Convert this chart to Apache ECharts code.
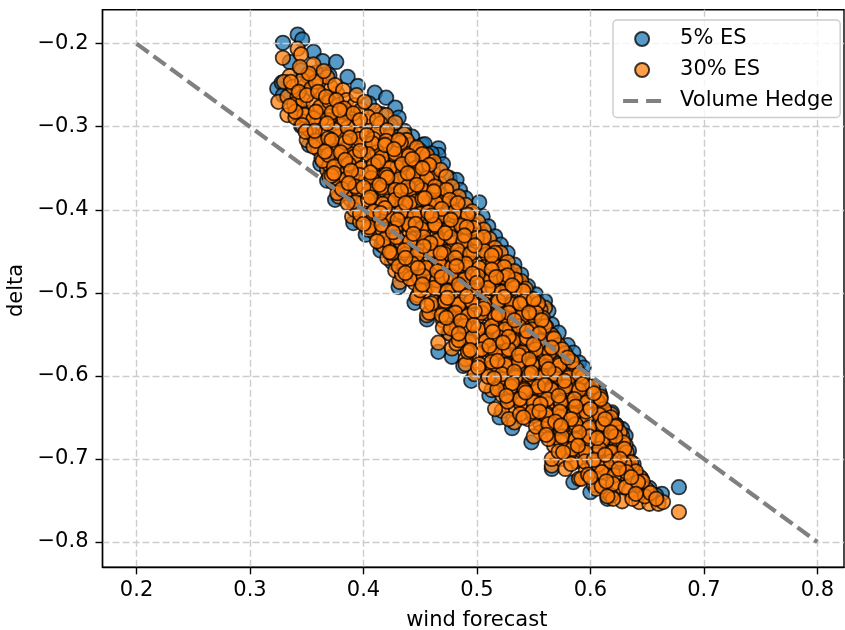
<!DOCTYPE html>
<html>
<head>
<meta charset="utf-8">
<script src="https://cdn.jsdelivr.net/npm/echarts@6/dist/echarts.min.js"></script>
<style>
html,body{margin:0;padding:0;background:#fff}
#main{width:845px;height:630px}
</style>
</head>
<body>
<div id="main"></div>
<script>
var xTicks = [0.2,0.3,0.4,0.5,0.6,0.7,0.8];
var yTicks = [-0.2,-0.3,-0.4,-0.5,-0.6,-0.7,-0.8];
var hedge = [[0.2,-0.2],[0.8,-0.8]];

// blue only shows along the edges of the band
var es5 = [
[.342,-.189],[.329,-.199],[.346,-.195],[.356,-.210],[.364,-.221],[.376,-.222],[.335,-.222],[.345,-.232],[.358,-.235],[.370,-.238],
[.386,-.240],[.395,-.251],[.410,-.259],[.420,-.265],[.428,-.277],[.431,-.289],[.324,-.254],[.328,-.247],[.335,-.260],[.329,-.262],
[.405,-.272],[.416,-.285],[.424,-.298],[.436,-.305],[.443,-.312],[.452,-.322],[.454,-.321],[.466,-.326],[.466,-.334],[.460,-.332],
[.470,-.345],[.476,-.362],[.482,-.364],[.485,-.376],[.490,-.386],[.502,-.391],[.505,-.408],[.510,-.420],[.516,-.432],[.521,-.442],
[.527,-.452],[.533,-.466],[.539,-.478],[.545,-.492],[.552,-.502],[.560,-.510],[.563,-.522],[.566,-.538],[.572,-.548],[.580,-.563],
[.585,-.572],[.590,-.584],[.594,-.590],[.599,-.614],[.608,-.620],[.619,-.644],[.628,-.664],[.631,-.672],[.634,-.690],[.638,-.706],
[.645,-.724],[.652,-.735],[.663,-.742],[.658,-.744],[.678,-.734],
[.345,-.299],[.352,-.322],[.362,-.345],[.368,-.365],[.375,-.388],[.391,-.416],[.402,-.430],[.415,-.449],[.425,-.463],[.431,-.493],
[.445,-.512],[.456,-.532],[.466,-.571],[.478,-.577],[.475,-.548],[.488,-.588],[.495,-.606],[.511,-.624],[.520,-.650],[.531,-.663],
[.548,-.680],[.566,-.712],[.585,-.728],[.600,-.740],[.615,-.748]
];
var es30 = [
[.329,-.217],[.342,-.206],[.345,-.213],[.356,-.225],[.335,-.239],[.325,-.270],[.333,-.286],[.350,-.316],[.353,-.304],
[.333,-.264],[.342,-.264],[.349,-.250],[.351,-.239],[.364,-.262],[.377,-.260],[.371,-.252],[.342,-.277],[.351,-.283],[.366,-.283],
[.377,-.288],[.387,-.283],[.410,-.281],[.420,-.286],[.428,-.295],
[.345,-.293],[.358,-.298],[.369,-.292],[.381,-.299],[.392,-.294],[.404,-.300],[.415,-.296],
[.356,-.311],[.367,-.306],[.378,-.312],[.389,-.308],[.400,-.314],[.412,-.307],[.423,-.312],[.436,-.309],
[.360,-.327],[.371,-.321],[.383,-.328],[.394,-.322],[.406,-.329],[.417,-.323],[.429,-.327],[.441,-.322],[.450,-.329],
[.363,-.338],[.376,-.343],[.387,-.337],[.399,-.344],[.410,-.336],[.422,-.343],[.434,-.338],[.445,-.344],[.457,-.339],
[.368,-.352],[.380,-.357],[.392,-.351],[.403,-.358],[.415,-.352],[.427,-.358],[.438,-.351],[.450,-.358],[.461,-.353],
[.373,-.367],[.384,-.372],[.396,-.366],[.408,-.373],[.419,-.366],[.431,-.372],[.443,-.367],[.455,-.373],[.467,-.368],
[.378,-.384],[.389,-.388],[.401,-.381],[.412,-.387],[.424,-.382],[.436,-.388],[.447,-.381],[.459,-.387],[.471,-.383],[.480,-.389],
[.390,-.408],[.405,-.397],[.417,-.403],[.428,-.396],[.440,-.402],[.452,-.397],[.463,-.403],[.475,-.396],[.487,-.402],
[.397,-.414],[.408,-.418],[.420,-.411],[.432,-.417],[.444,-.412],[.456,-.418],[.467,-.411],[.479,-.417],[.491,-.412],[.498,-.419],
[.410,-.428],[.423,-.433],[.435,-.426],[.447,-.432],[.458,-.427],[.470,-.433],[.482,-.426],[.494,-.432],[.503,-.428],
[.416,-.442],[.427,-.447],[.439,-.441],[.451,-.448],[.463,-.442],[.474,-.447],[.486,-.441],[.498,-.448],[.509,-.443],
[.421,-.458],[.432,-.462],[.444,-.456],[.456,-.463],[.468,-.457],[.479,-.463],[.491,-.456],[.503,-.462],[.515,-.457],[.522,-.463],
[.428,-.473],[.440,-.478],[.452,-.472],[.464,-.478],[.475,-.471],[.487,-.477],[.499,-.472],[.510,-.478],[.522,-.473],[.530,-.478],[.432,-.487],
[.445,-.488],[.456,-.493],[.468,-.487],[.480,-.493],[.492,-.486],[.504,-.492],[.515,-.487],[.527,-.493],[.537,-.488],
[.448,-.503],[.460,-.508],[.472,-.502],[.484,-.508],[.496,-.501],[.508,-.507],[.520,-.502],[.531,-.508],[.543,-.503],
[.456,-.527],[.465,-.518],[.477,-.523],[.489,-.517],[.501,-.523],[.513,-.516],[.524,-.522],[.536,-.517],[.548,-.522],[.560,-.518],
[.470,-.533],[.482,-.538],[.494,-.532],[.505,-.538],[.517,-.531],[.529,-.537],[.541,-.532],[.553,-.538],
[.476,-.549],[.487,-.553],[.499,-.547],[.511,-.553],[.523,-.546],[.535,-.552],[.546,-.547],[.558,-.553],[.466,-.560],[.478,-.567],
[.490,-.563],[.503,-.568],[.515,-.562],[.527,-.568],[.539,-.561],[.551,-.567],[.562,-.562],
[.496,-.579],[.508,-.583],[.520,-.577],[.532,-.583],[.544,-.576],[.556,-.582],[.568,-.577],[.578,-.582],
[.506,-.593],[.517,-.598],[.529,-.592],[.541,-.598],[.553,-.591],[.564,-.597],[.575,-.592],[.586,-.598],
[.516,-.608],[.527,-.613],[.539,-.607],[.551,-.613],[.562,-.606],[.574,-.612],[.585,-.607],[.597,-.612],[.609,-.625],
[.522,-.623],[.533,-.628],[.545,-.622],[.557,-.628],[.569,-.621],[.580,-.627],[.591,-.622],[.601,-.628],
[.531,-.639],[.543,-.643],[.555,-.637],[.567,-.643],[.578,-.636],[.590,-.642],[.602,-.637],[.612,-.643],[.618,-.646],
[.545,-.652],[.556,-.658],[.568,-.652],[.579,-.658],[.591,-.651],[.603,-.657],[.615,-.652],[.622,-.658],
[.556,-.668],[.568,-.673],[.580,-.667],[.592,-.673],[.604,-.666],[.616,-.672],[.628,-.673],
[.568,-.684],[.580,-.688],[.592,-.682],[.604,-.688],[.615,-.681],[.626,-.687],[.631,-.683],
[.566,-.708],[.574,-.700],[.587,-.703],[.599,-.697],[.611,-.703],[.622,-.697],[.633,-.702],
[.590,-.724],[.596,-.714],[.606,-.719],[.616,-.713],[.627,-.718],[.637,-.713],[.644,-.722],
[.603,-.731],[.614,-.739],[.624,-.733],[.634,-.738],[.642,-.731],[.650,-.737],
[.628,-.751],[.643,-.752],[.652,-.754],[.660,-.754],[.664,-.752],[.637,-.748],[.648,-.745],[.678,-.764],[.618,-.744],
// second pass, the middle of the band is packed tighter
[.352,-.303],[.363,-.291],[.375,-.304],[.386,-.301],[.398,-.306],[.409,-.315],[.421,-.304],
[.365,-.319],[.377,-.329],[.389,-.333],[.401,-.320],[.412,-.331],[.424,-.335],[.436,-.330],
[.370,-.346],[.381,-.350],[.394,-.343],[.405,-.349],[.418,-.345],[.430,-.349],[.441,-.344],[.453,-.348],
[.377,-.362],[.390,-.360],[.402,-.365],[.413,-.362],[.425,-.366],[.437,-.361],[.449,-.365],[.460,-.362],
[.384,-.380],[.395,-.376],[.407,-.381],[.418,-.376],[.430,-.380],[.442,-.376],[.454,-.380],[.465,-.377],
[.399,-.392],[.411,-.395],[.422,-.390],[.434,-.395],[.446,-.390],[.458,-.394],[.470,-.391],[.481,-.395],
[.403,-.408],[.414,-.411],[.426,-.406],[.438,-.410],[.450,-.405],[.461,-.410],[.473,-.405],[.485,-.409],
[.417,-.425],[.429,-.423],[.441,-.419],[.453,-.425],[.464,-.420],[.476,-.424],[.488,-.420],[.499,-.425],
[.424,-.438],[.433,-.439],[.445,-.435],[.456,-.439],[.468,-.435],[.480,-.440],[.492,-.436],[.504,-.438],
[.438,-.453],[.450,-.450],[.462,-.454],[.473,-.451],[.485,-.454],[.497,-.451],[.509,-.454],
[.436,-.469],[.448,-.465],[.460,-.470],[.472,-.465],[.483,-.470],[.495,-.465],[.507,-.469],[.519,-.466],
[.449,-.482],[.461,-.485],[.473,-.480],[.485,-.484],[.497,-.480],[.509,-.485],[.521,-.481],[.533,-.484],
[.454,-.498],[.466,-.495],[.478,-.499],[.490,-.495],[.502,-.499],[.514,-.495],[.526,-.500],[.537,-.497],
[.471,-.512],[.483,-.515],[.495,-.510],[.507,-.514],[.518,-.510],[.530,-.515],[.542,-.511],[.553,-.514],
[.476,-.530],[.488,-.526],[.500,-.530],[.511,-.526],[.523,-.530],[.535,-.526],[.547,-.530],
[.481,-.545],[.493,-.541],[.505,-.545],[.517,-.541],[.529,-.545],[.541,-.541],[.552,-.545],
[.493,-.559],[.506,-.556],[.518,-.556],[.530,-.560],[.542,-.555],[.554,-.559],[.565,-.555],
[.500,-.573],[.512,-.570],[.524,-.574],[.536,-.571],[.548,-.574],[.559,-.571],[.571,-.570],
[.514,-.589],[.526,-.586],[.537,-.589],[.549,-.585],[.561,-.589],[.572,-.585],[.582,-.589],
[.522,-.604],[.534,-.600],[.546,-.604],[.558,-.600],[.569,-.603],[.581,-.600],[.592,-.604],
[.530,-.619],[.541,-.615],[.553,-.619],[.565,-.615],[.576,-.618],[.588,-.615],[.598,-.619],
[.539,-.634],[.551,-.631],[.562,-.634],[.574,-.630],[.585,-.634],[.597,-.630],[.608,-.634],
[.550,-.648],[.561,-.645],[.573,-.649],[.585,-.645],[.597,-.649],[.609,-.646],
[.562,-.662],[.574,-.665],[.586,-.660],[.598,-.664],[.610,-.660],[.621,-.664],
[.574,-.679],[.586,-.676],[.598,-.679],[.610,-.675],[.622,-.678],
[.581,-.695],[.593,-.691],[.605,-.695],[.617,-.691],[.628,-.694],
[.602,-.708],[.612,-.711],[.623,-.708],[.633,-.710],
// top cluster
[.330,-.246],[.338,-.252],[.346,-.244],[.354,-.254],[.361,-.245],[.368,-.240],[.375,-.250],[.382,-.256],[.339,-.273],[.347,-.268],
[.356,-.272],[.362,-.276],[.370,-.270],[.378,-.274],[.385,-.268],[.392,-.274],[.398,-.280],[.404,-.288],[.394,-.262],[.401,-.270],
[.358,-.246],[.365,-.233],[.352,-.236],[.344,-.228],[.372,-.283],[.383,-.291],[.412,-.292],[.340,-.289],[.348,-.286],[.356,-.290],
[.336,-.246],[.343,-.258],[.350,-.262],[.360,-.258],[.367,-.264],[.376,-.268],[.383,-.278],[.391,-.284],[.397,-.292],[.340,-.282],
[.335,-.275],[.346,-.298],[.358,-.282],[.368,-.296],[.379,-.280],
// upper right edge, just inside the blue
[.438,-.316],[.447,-.325],[.456,-.334],[.462,-.342],[.468,-.352],[.473,-.360],[.478,-.372],[.484,-.384],[.490,-.394],[.496,-.402],
[.501,-.414],[.506,-.424],[.511,-.435],[.516,-.446],[.521,-.452],[.527,-.463],[.533,-.474],[.539,-.486],[.543,-.495],[.548,-.507],
[.556,-.520],[.558,-.530],[.561,-.541],[.566,-.551],[.572,-.563],[.578,-.573],[.583,-.582],[.588,-.592],[.593,-.601],[.599,-.618],
[.606,-.630],[.612,-.640],[.618,-.650],[.623,-.660],[.626,-.668],[.629,-.680],[.632,-.692],[.636,-.704],[.640,-.715],[.646,-.727],
[.653,-.741],[.658,-.748],
// lower left edge
[.349,-.306],[.356,-.324],[.364,-.341],[.370,-.360],[.377,-.380],[.392,-.400],[.404,-.424],[.418,-.444],[.427,-.458],[.434,-.478],
[.447,-.506],[.458,-.524],[.470,-.542],[.482,-.561],[.490,-.580],[.498,-.598],[.513,-.617],[.522,-.642],[.533,-.656],[.550,-.673],
[.566,-.700],[.578,-.712],[.592,-.724],[.605,-.736],[.620,-.748],[.516,-.640],[.528,-.652],[.490,-.586],[.508,-.612],
// third pass
[.358,-.317],[.369,-.314],[.384,-.319],[.396,-.315],[.408,-.320],[.420,-.317],[.433,-.319],
[.369,-.334],[.380,-.331],[.392,-.336],[.404,-.333],[.416,-.337],[.428,-.332],[.440,-.335],[.452,-.333],
[.374,-.348],[.387,-.345],[.398,-.350],[.409,-.346],[.423,-.350],[.434,-.345],[.446,-.350],[.458,-.346],
[.372,-.359],[.385,-.363],[.396,-.358],[.407,-.362],[.420,-.358],[.432,-.363],[.444,-.358],[.456,-.362],
[.381,-.375],[.393,-.372],[.405,-.377],[.416,-.373],[.428,-.376],[.439,-.372],[.452,-.376],[.463,-.372],[.473,-.376],
[.393,-.391],[.404,-.388],[.417,-.393],[.428,-.388],[.441,-.392],[.452,-.387],[.464,-.392],[.476,-.388],
[.397,-.405],[.409,-.402],[.421,-.407],[.433,-.403],[.445,-.407],[.457,-.403],[.468,-.407],[.480,-.403],[.492,-.406],
[.405,-.421],[.416,-.418],[.428,-.422],[.440,-.418],[.451,-.423],[.463,-.418],[.475,-.423],[.486,-.419],[.497,-.422],
[.418,-.436],[.429,-.433],[.441,-.438],[.453,-.433],[.465,-.437],[.477,-.433],[.488,-.438],[.500,-.434],
[.425,-.452],[.436,-.449],[.447,-.454],[.459,-.449],[.471,-.453],[.483,-.449],[.494,-.453],[.506,-.449],[.516,-.452],
[.431,-.468],[.443,-.465],[.455,-.470],[.467,-.465],[.478,-.469],[.490,-.465],[.502,-.470],[.514,-.465],[.524,-.469],
[.441,-.483],[.453,-.480],[.465,-.485],[.477,-.480],[.489,-.484],[.501,-.480],[.512,-.485],[.524,-.481],[.534,-.484],
[.450,-.497],[.462,-.494],[.474,-.498],[.486,-.494],[.498,-.498],[.510,-.494],[.522,-.499],[.533,-.494],[.541,-.498],
[.460,-.513],[.472,-.510],[.484,-.514],[.495,-.510],[.507,-.515],[.519,-.510],[.531,-.514],[.542,-.510],[.554,-.513],
[.469,-.527],[.481,-.524],[.492,-.528],[.504,-.524],[.516,-.529],[.528,-.524],[.540,-.528],[.552,-.524],
[.477,-.543],[.489,-.540],[.501,-.544],[.513,-.540],[.525,-.544],[.537,-.540],[.549,-.544],[.560,-.540],
[.484,-.557],[.496,-.554],[.508,-.558],[.520,-.554],[.532,-.558],[.544,-.554],[.556,-.558],[.568,-.555],
[.492,-.571],[.504,-.568],[.516,-.572],[.528,-.568],[.540,-.572],[.552,-.568],[.564,-.572],[.575,-.568],
[.502,-.586],[.513,-.583],[.525,-.587],[.537,-.583],[.549,-.587],[.561,-.583],[.573,-.587],[.584,-.583],
[.510,-.601],[.522,-.598],[.534,-.602],[.546,-.598],[.557,-.602],[.569,-.598],[.581,-.602],[.590,-.598],
[.518,-.616],[.530,-.613],[.542,-.617],[.554,-.613],[.566,-.617],[.578,-.613],[.590,-.617],[.602,-.613],
[.527,-.631],[.538,-.628],[.550,-.632],[.562,-.628],[.574,-.632],[.586,-.628],[.597,-.632],[.609,-.628],
[.538,-.646],[.549,-.643],[.561,-.647],[.573,-.643],[.585,-.647],[.596,-.643],[.608,-.647],
[.552,-.661],[.563,-.658],[.575,-.662],[.587,-.658],[.599,-.662],[.611,-.658],[.622,-.661],
[.563,-.676],[.575,-.673],[.587,-.677],[.599,-.673],[.611,-.677],[.622,-.673],
[.572,-.691],[.584,-.688],[.596,-.692],[.608,-.688],[.619,-.692],[.630,-.688],
[.583,-.706],[.595,-.703],[.607,-.707],[.618,-.703],[.630,-.706],
[.598,-.719],[.610,-.716],[.621,-.720],[.632,-.716],
[.610,-.733],[.620,-.730],[.631,-.734],[.642,-.728],
// last pass, loose points on top
[.357,-.305],[.372,-.316],[.388,-.313],[.403,-.310],[.419,-.322],[.431,-.316],
[.366,-.330],[.384,-.340],[.397,-.329],[.413,-.342],[.427,-.327],[.443,-.339],
[.374,-.356],[.389,-.353],[.406,-.355],[.421,-.361],[.439,-.356],[.452,-.350],
[.387,-.368],[.400,-.373],[.414,-.370],[.433,-.377],[.447,-.370],[.462,-.378],
[.386,-.392],[.406,-.385],[.419,-.398],[.437,-.392],[.454,-.386],[.469,-.399],[.483,-.392],
[.400,-.417],[.415,-.404],[.430,-.412],[.446,-.417],[.460,-.407],[.477,-.412],[.491,-.421],
[.412,-.438],[.426,-.427],[.444,-.429],[.459,-.440],[.472,-.428],[.489,-.431],[.506,-.433],
[.423,-.451],[.437,-.458],[.453,-.444],[.468,-.452],[.481,-.458],[.498,-.443],[.513,-.455],
[.437,-.476],[.448,-.470],[.465,-.474],[.482,-.468],[.496,-.477],[.513,-.472],[.527,-.479],
[.452,-.490],[.469,-.481],[.484,-.490],[.500,-.488],[.517,-.481],[.531,-.491],
[.456,-.515],[.474,-.506],[.491,-.504],[.506,-.519],[.524,-.505],[.538,-.513],[.550,-.508],
[.473,-.530],[.486,-.534],[.498,-.522],[.519,-.526],[.533,-.533],[.546,-.524],[.557,-.533],
[.484,-.549],[.497,-.539],[.514,-.547],[.528,-.553],[.544,-.546],[.555,-.549],
[.494,-.569],[.511,-.564],[.523,-.560],[.537,-.575],[.550,-.562],[.566,-.566],
[.501,-.590],[.518,-.582],[.533,-.595],[.546,-.580],[.563,-.592],[.580,-.578],
[.515,-.603],[.531,-.609],[.548,-.596],[.560,-.611],[.577,-.606],[.593,-.610],
[.526,-.624],[.543,-.620],[.556,-.634],[.572,-.624],[.587,-.637],[.603,-.621],
[.541,-.650],[.555,-.643],[.569,-.655],[.583,-.652],[.600,-.640],[.613,-.652],
[.561,-.671],[.574,-.660],[.590,-.668],[.606,-.675],[.618,-.668],
[.576,-.692],[.589,-.684],[.603,-.701],[.613,-.695],[.626,-.700],
[.600,-.722],[.614,-.727],[.625,-.712],[.636,-.722],[.615,-.745],[.640,-.742]
];

var chart = echarts.init(document.getElementById('main'));
var font = 'DejaVu Sans';
var option = {
	animation: false,
	textStyle: {fontFamily: font},
	grid: {left: 102.5, right: 1, top: 9.7, bottom: 62.7, show: true, borderColor: '#000', borderWidth: 1.4, z: 0, outerBoundsMode: 'none'},
	legend: {
		left: 613, top: 20, orient: 'vertical', z: 20, padding: [8.5, 7, 6, 8],
		itemWidth: 38, itemHeight: 14, itemGap: 10,
		backgroundColor: 'rgba(255,255,255,0.8)', borderColor: '#ccc', borderWidth: 1.4, borderRadius: 4,
		textStyle: {fontFamily: font, fontSize: 21, color: '#000', padding: [0, 0, 0, 14]},
		data: ['5% ES', '30% ES', {
			name: 'Volume Hedge',
			itemStyle: {opacity: 0},
			lineStyle: {color: '#808080', width: 4.2, type: [15, 8]}
		}]
	},
	xAxis: {
		type: 'value', min: 0.17, max: 0.8235, z: 5,
		name: 'wind forecast', nameLocation: 'middle', nameGap: 42.5,
		nameTextStyle: {fontFamily: font, fontSize: 21, color: '#000', padding: [0, 0, 0, 7]},
		axisLine: {show: true, lineStyle: {color: '#000', width: 1.4}},
		axisTick: {show: true, length: 7, customValues: xTicks, lineStyle: {color: '#000', width: 1.4}},
		axisLabel: {show: true, customValues: xTicks, margin: 13, fontSize: 21, color: '#000', formatter: function(v){return v.toFixed(1);}},
		splitLine: {show: true, lineStyle: {color: '#ccc', width: 1.4, type: [7, 3]}}
	},
	yAxis: {
		type: 'value', min: -0.8305, max: -0.1591, z: 5,
		name: 'delta', nameLocation: 'middle', nameGap: 66,
		nameTextStyle: {fontFamily: font, fontSize: 21, color: '#000', padding: [0, 4, 0, 0]},
		axisLine: {show: true, lineStyle: {color: '#000', width: 1.4}},
		axisTick: {show: true, length: 7, customValues: yTicks, lineStyle: {color: '#000', width: 1.4}},
		axisLabel: {show: true, customValues: yTicks, margin: 14, fontSize: 21, color: '#000', padding: [3, 0, 0, 0], formatter: function(v){return '\u2212' + Math.abs(v).toFixed(1);}},
		splitLine: {show: true, lineStyle: {color: '#ccc', width: 1.4, type: [7, 3]}}
	},
	series: [
		{name: '5% ES', type: 'scatter', z: 2, symbolSize: 14.5, data: es5,
			itemStyle: {color: '#1f77b4', opacity: 0.75, borderColor: '#000', borderWidth: 1.8}},
		{name: '30% ES', type: 'scatter', z: 3, symbolSize: 14.5, data: es30,
			itemStyle: {color: '#ff7f0e', opacity: 0.75, borderColor: '#000', borderWidth: 1.8}},
		{name: 'Volume Hedge', type: 'line', z: 6, data: hedge, symbol: 'none', silent: true,
			lineStyle: {color: '#808080', width: 4.2, type: [15, 6]}, itemStyle: {color: '#808080'}}
	]
};
chart.setOption(option);
</script>
</body>
</html>
